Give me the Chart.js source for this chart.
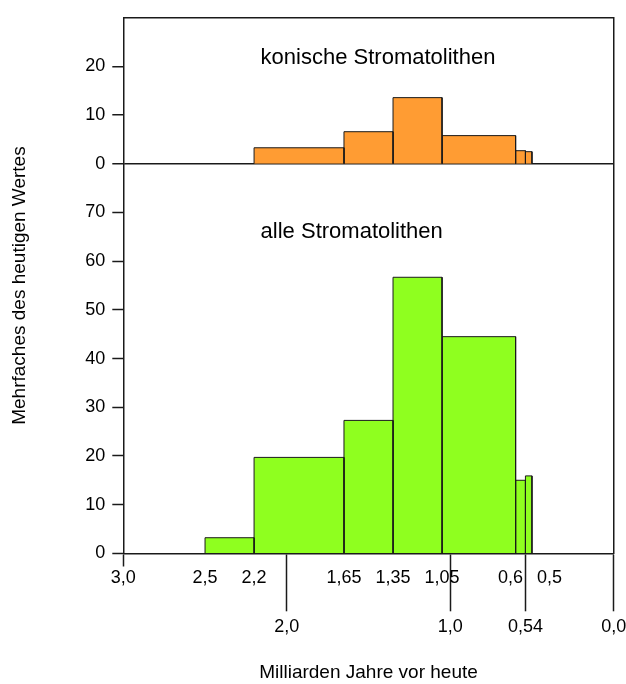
<!DOCTYPE html>
<html lang="de">
<head>
<meta charset="utf-8">
<title>Stromatolithen</title>
<script src="https://cdn.jsdelivr.net/npm/chart.js@4.4.1/dist/chart.umd.min.js"></script>
<style>
  html, body { margin: 0; padding: 0; background: #fff; }
  .chart-box { width: 626px; height: 684px; }
</style>
</head>
<body>
<div class="chart-box"><canvas id="stromatolithen-chart" width="626" height="684"></canvas></div>
<script>
// Klassengrenzen (Milliarden Jahre vor heute)
const binEdges = [2.5, 2.2, 1.65, 1.35, 1.05, 0.6, 0.54, 0.5];

// Mehrfaches des heutigen Wertes je Klasse
const alleValues = [3.2, 19.7, 27.3, 56.7, 44.5, 15.0, 15.9];
const konischeValues = [null, 3.3, 6.6, 13.6, 5.8, 2.7, 2.5];

// Achsenbeschriftung
const upperTicks = [3.0, 2.5, 2.2, 1.65, 1.35, 1.05, 0.6, 0.5];
const upperLabels = ['3,0', '2,5', '2,2', '1,65', '1,35', '1,05', '0,6', '0,5'];
const lowerTicks = [2.0, 1.0, 0.54, 0.0];
const lowerLabels = ['2,0', '1,0', '0,54', '0,0'];
const konischeTicks = [0, 10, 20];
const alleTicks = [0, 10, 20, 30, 40, 50, 60, 70];

const frameColor = '#1a1a1a',
    none = 'rgba(0,0,0,0)';

Chart.defaults.font.family = '"Liberation Sans", Arial, sans-serif';
Chart.defaults.color = '#000';

function binSets(values, color, yAxisID, name) {
    const sets = [];
    values.forEach((v, i) => {
        if (v === null) return;
        sets.push({
            label: name,
            xAxisID: 'x',
            yAxisID: yAxisID,
            data: [
                {x: binEdges[i], y: 0},
                {x: binEdges[i], y: v},
                {x: binEdges[i + 1], y: v},
                {x: binEdges[i + 1], y: 0},
            ],
            backgroundColor: color,
            borderColor: frameColor,
            borderWidth: 1,
            fill: 'origin',
            pointRadius: 0,
            tension: 0,
        });
    });
    return sets;
}

// untere Reihe bekommt zwei Leerzeilen davor
function xLabel(value) {
    let i = upperTicks.indexOf(value);
    if (i >= 0) {
        // 0,6 und 0,5 liegen zu dicht, etwas auseinanderruecken
        if (value === 0.6) return upperLabels[i] + '  ';
        if (value === 0.5) return '       ' + upperLabels[i];
        return upperLabels[i];
    }
    i = lowerTicks.indexOf(value);
    return ['', '', lowerLabels[i]];
}

const setTicks = list => scale => {
    scale.ticks = list.map(v => ({value: v}));
};

const panelTitles = {
    id: 'panelTitles',
    afterDatasetsDraw(chart, args, options) {
        const ctx = chart.ctx;
        ctx.save();
        ctx.font = '22px "Liberation Sans", Arial, sans-serif';
        ctx.fillStyle = '#000';
        ctx.textAlign = 'left';
        ctx.textBaseline = 'alphabetic';
        options.items.forEach(item => {
            ctx.fillText(item.text,
                chart.scales.x.getPixelForValue(item.x),
                chart.scales[item.yAxisID].getPixelForValue(item.y));
        });
        ctx.restore();
    }
};

const ctx = document.querySelector('#stromatolithen-chart');

new Chart(ctx.getContext('2d'), {
    type: 'line',
    data: {
        datasets: binSets(alleValues, '#8fff1f', 'yBot', 'alle Stromatolithen')
            .concat(binSets(konischeValues, '#ff9c33', 'yTop', 'konische Stromatolithen')),
    },
    options: {
        responsive: false,
        maintainAspectRatio: false,
        devicePixelRatio: 1,
        animation: false,
        events: [],
        layout: {
            padding: {top: 14, right: 12.3, bottom: 0, left: 0},
        },
        scales: {
            x: {
                type: 'linear',
                position: 'bottom',
                min: 0,
                max: 3,
                reverse: true,
                z: 1,
                afterBuildTicks: setTicks(upperTicks.concat(lowerTicks).sort((a, b) => b - a)),
                afterFit: scale => { scale.height = 130.7; },
                border: {color: frameColor, width: 1.5},
                grid: {
                    drawOnChartArea: false,
                    tickLength: 58,
                    tickWidth: 1.5,
                    tickColor: c => c.tick && (lowerTicks.includes(c.tick.value) || c.tick.value === 3) ? frameColor : none,
                    tickBorderDash: c => c.tick && c.tick.value === 3 ? [12, 100] : [],
                },
                ticks: {
                    autoSkip: false,
                    maxRotation: 0,
                    minRotation: 0,
                    padding: -45.1,
                    font: {size: 18, lineHeight: 1.344},
                    callback: xLabel,
                },
                title: {
                    display: true,
                    text: 'Milliarden Jahre vor heute',
                    font: {size: 19},
                    padding: {top: 0, bottom: 0},
                },
            },
            xFrame: {
                type: 'linear',
                position: 'top',
                afterFit: scale => { scale.height = 0; },
                ticks: {display: false},
                grid: {display: false},
                border: {color: frameColor, width: 1.5},
            },
            yBot: {
                type: 'linear',
                position: 'left',
                stack: 'panels',
                stackWeight: 80,
                min: 0,
                max: 80,
                afterBuildTicks: setTicks(alleTicks),
                afterFit: scale => { scale.width = 50; },
                border: {color: frameColor, width: 1.5},
                grid: {drawOnChartArea: false, tickColor: frameColor, tickLength: 11, tickWidth: 1.5},
                ticks: {padding: 7, font: {size: 18}},
            },
            yTop: {
                type: 'linear',
                position: 'left',
                stack: 'panels',
                stackWeight: 30,
                min: 0,
                max: 30,
                z: 1,
                afterBuildTicks: setTicks(konischeTicks),
                afterFit: scale => { scale.width = 50; },
                border: {color: frameColor, width: 1.5},
                grid: {
                    color: c => c.tick && c.tick.value === 0 ? frameColor : none,
                    lineWidth: 1.5,
                    tickColor: frameColor,
                    tickLength: 11,
                    tickWidth: 1.5,
                },
                ticks: {padding: 7, font: {size: 18}},
            },
            yTitle: {
                type: 'linear',
                position: 'left',
                afterFit: scale => { scale.width = 73.3; },
                ticks: {display: false},
                grid: {display: false},
                border: {display: false},
                title: {
                    display: true,
                    text: 'Mehrfaches des heutigen Wertes',
                    font: {size: 19},
                    padding: {top: 8.8, bottom: 0},
                },
            },
            yRight: {
                type: 'linear',
                position: 'right',
                afterFit: scale => { scale.width = 0; },
                ticks: {display: false},
                grid: {display: false},
                border: {color: frameColor, width: 1.5},
            },
        },
        plugins: {
            legend: {display: false},
            tooltip: {enabled: false},
            panelTitles: {
                items: [
                    {text: 'konische Stromatolithen', x: 2.16, y: 20.6, yAxisID: 'yTop'},
                    {text: 'alle Stromatolithen', x: 2.16, y: 64.8, yAxisID: 'yBot'},
                ],
            },
        },
    },
    plugins: [panelTitles],
});
</script>
</body>
</html>
